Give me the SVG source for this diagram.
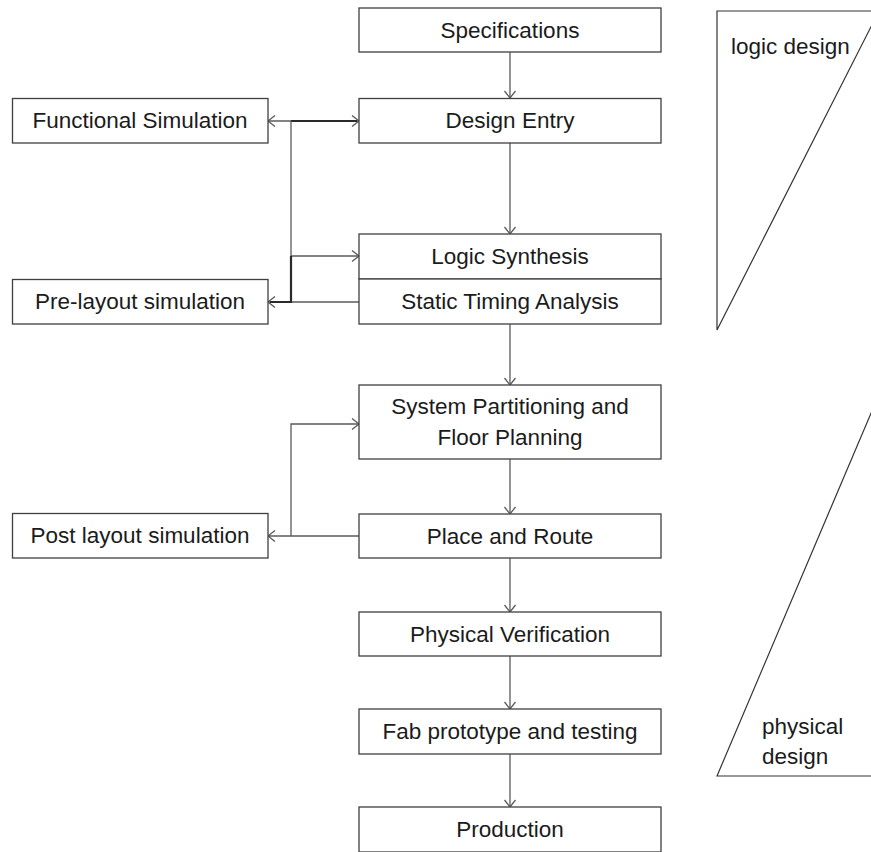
<svg xmlns="http://www.w3.org/2000/svg" width="871" height="852" viewBox="0 0 871 852">
  <style>
    .box { fill: #ffffff; stroke: #3f3f3f; stroke-width: 1.3; }
    .lbl { font-family: "Liberation Sans", Arial, sans-serif; font-size: 22.5px; fill: #1b1b1b; text-anchor: middle; }
    .side { font-family: "Liberation Sans", Arial, sans-serif; font-size: 22.5px; fill: #1b1b1b; }
    .wire { fill: none; stroke: #5a5a5a; stroke-width: 1.3; }
    .heavy { fill: none; stroke: #2a2a2a; stroke-width: 2.2; }
    .tri { fill: none; stroke: #333333; stroke-width: 1.2; }
  </style>
  <defs>
    <marker id="arrow" markerUnits="userSpaceOnUse" markerWidth="12" markerHeight="12" viewBox="-8 -6 10 12" refX="0" refY="0" orient="auto-start-reverse">
      <path d="M-7,-5.5 L0,0 L-7,5.5" fill="none" stroke="#5a5a5a" stroke-width="1.3"/>
    </marker>
  </defs>

  <rect width="871" height="852" fill="#ffffff"/>

  <!-- phase wedges on the right -->
  <g id="logic-design">
    <polygon class="tri" points="717,11 879,11 717,330"/>
    <text class="side" x="731" y="54">logic design</text>
  </g>
  <g id="physical-design">
    <polygon class="tri" points="717,776 880,392 880,776"/>
    <text class="side" x="762" y="734">physical</text>
    <text class="side" x="762" y="764">design</text>
  </g>

  <!-- connectors -->
  <g id="connectors">
    <path class="wire" d="M510,52 V98" marker-end="url(#arrow)"/>
    <path class="wire" d="M510,143 V234" marker-end="url(#arrow)"/>
    <path class="wire" d="M510,324 V385" marker-end="url(#arrow)"/>
    <path class="wire" d="M510,459 V514" marker-end="url(#arrow)"/>
    <path class="wire" d="M510,558 V612" marker-end="url(#arrow)"/>
    <path class="wire" d="M510,656 V709" marker-end="url(#arrow)"/>
    <path class="wire" d="M510,754 V807" marker-end="url(#arrow)"/>

    <!-- simulation feedback loop around logic design -->
    <path class="wire" d="M268,121 H359" marker-start="url(#arrow)" marker-end="url(#arrow)"/>
    <path class="heavy" d="M291,121 H357" stroke-width="1.6"/>
    <path class="wire" d="M291,121 V302"/>
    <path class="wire" d="M291,256 H359" marker-end="url(#arrow)"/>
    <path class="wire" d="M359,302 H268" marker-end="url(#arrow)"/>
    <path class="heavy" d="M270,302 H291 V256"/>

    <!-- post layout feedback loop -->
    <path class="wire" d="M359,536 H268" marker-end="url(#arrow)"/>
    <path class="wire" d="M291,536 V424 H359" marker-end="url(#arrow)"/>
  </g>

  <!-- main flow -->
  <g id="specifications">
    <rect class="box" x="359" y="8" width="302" height="44"/>
    <text class="lbl" x="510" y="37.5">Specifications</text>
  </g>
  <g id="design-entry">
    <rect class="box" x="359" y="98.5" width="302" height="44.5"/>
    <text class="lbl" x="510" y="128">Design Entry</text>
  </g>
  <g id="logic-synthesis">
    <rect class="box" x="359" y="234" width="302" height="45"/>
    <text class="lbl" x="510" y="264">Logic Synthesis</text>
  </g>
  <g id="static-timing-analysis">
    <rect class="box" x="359" y="279" width="302" height="45"/>
    <text class="lbl" x="510" y="309">Static Timing Analysis</text>
  </g>
  <g id="system-partitioning">
    <rect class="box" x="359" y="385" width="302" height="74"/>
    <text class="lbl" x="510" y="414">System Partitioning and</text>
    <text class="lbl" x="510" y="445">Floor Planning</text>
  </g>
  <g id="place-and-route">
    <rect class="box" x="359" y="514" width="302" height="44"/>
    <text class="lbl" x="510" y="543.5">Place and Route</text>
  </g>
  <g id="physical-verification">
    <rect class="box" x="359" y="612" width="302" height="44"/>
    <text class="lbl" x="510" y="641.5">Physical Verification</text>
  </g>
  <g id="fab-prototype">
    <rect class="box" x="359" y="709" width="302" height="45"/>
    <text class="lbl" x="510" y="739">Fab prototype and testing</text>
  </g>
  <g id="production">
    <rect class="box" x="359" y="807" width="302" height="45"/>
    <text class="lbl" x="510" y="837">Production</text>
  </g>

  <!-- simulation steps -->
  <g id="functional-simulation">
    <rect class="box" x="12.5" y="98.5" width="255.5" height="44.5"/>
    <text class="lbl" x="140" y="128">Functional Simulation</text>
  </g>
  <g id="pre-layout-simulation">
    <rect class="box" x="12.5" y="279.5" width="255.5" height="44.5"/>
    <text class="lbl" x="140" y="309">Pre-layout simulation</text>
  </g>
  <g id="post-layout-simulation">
    <rect class="box" x="12.5" y="513.5" width="255.5" height="44.5"/>
    <text class="lbl" x="140" y="543">Post layout simulation</text>
  </g>
</svg>
